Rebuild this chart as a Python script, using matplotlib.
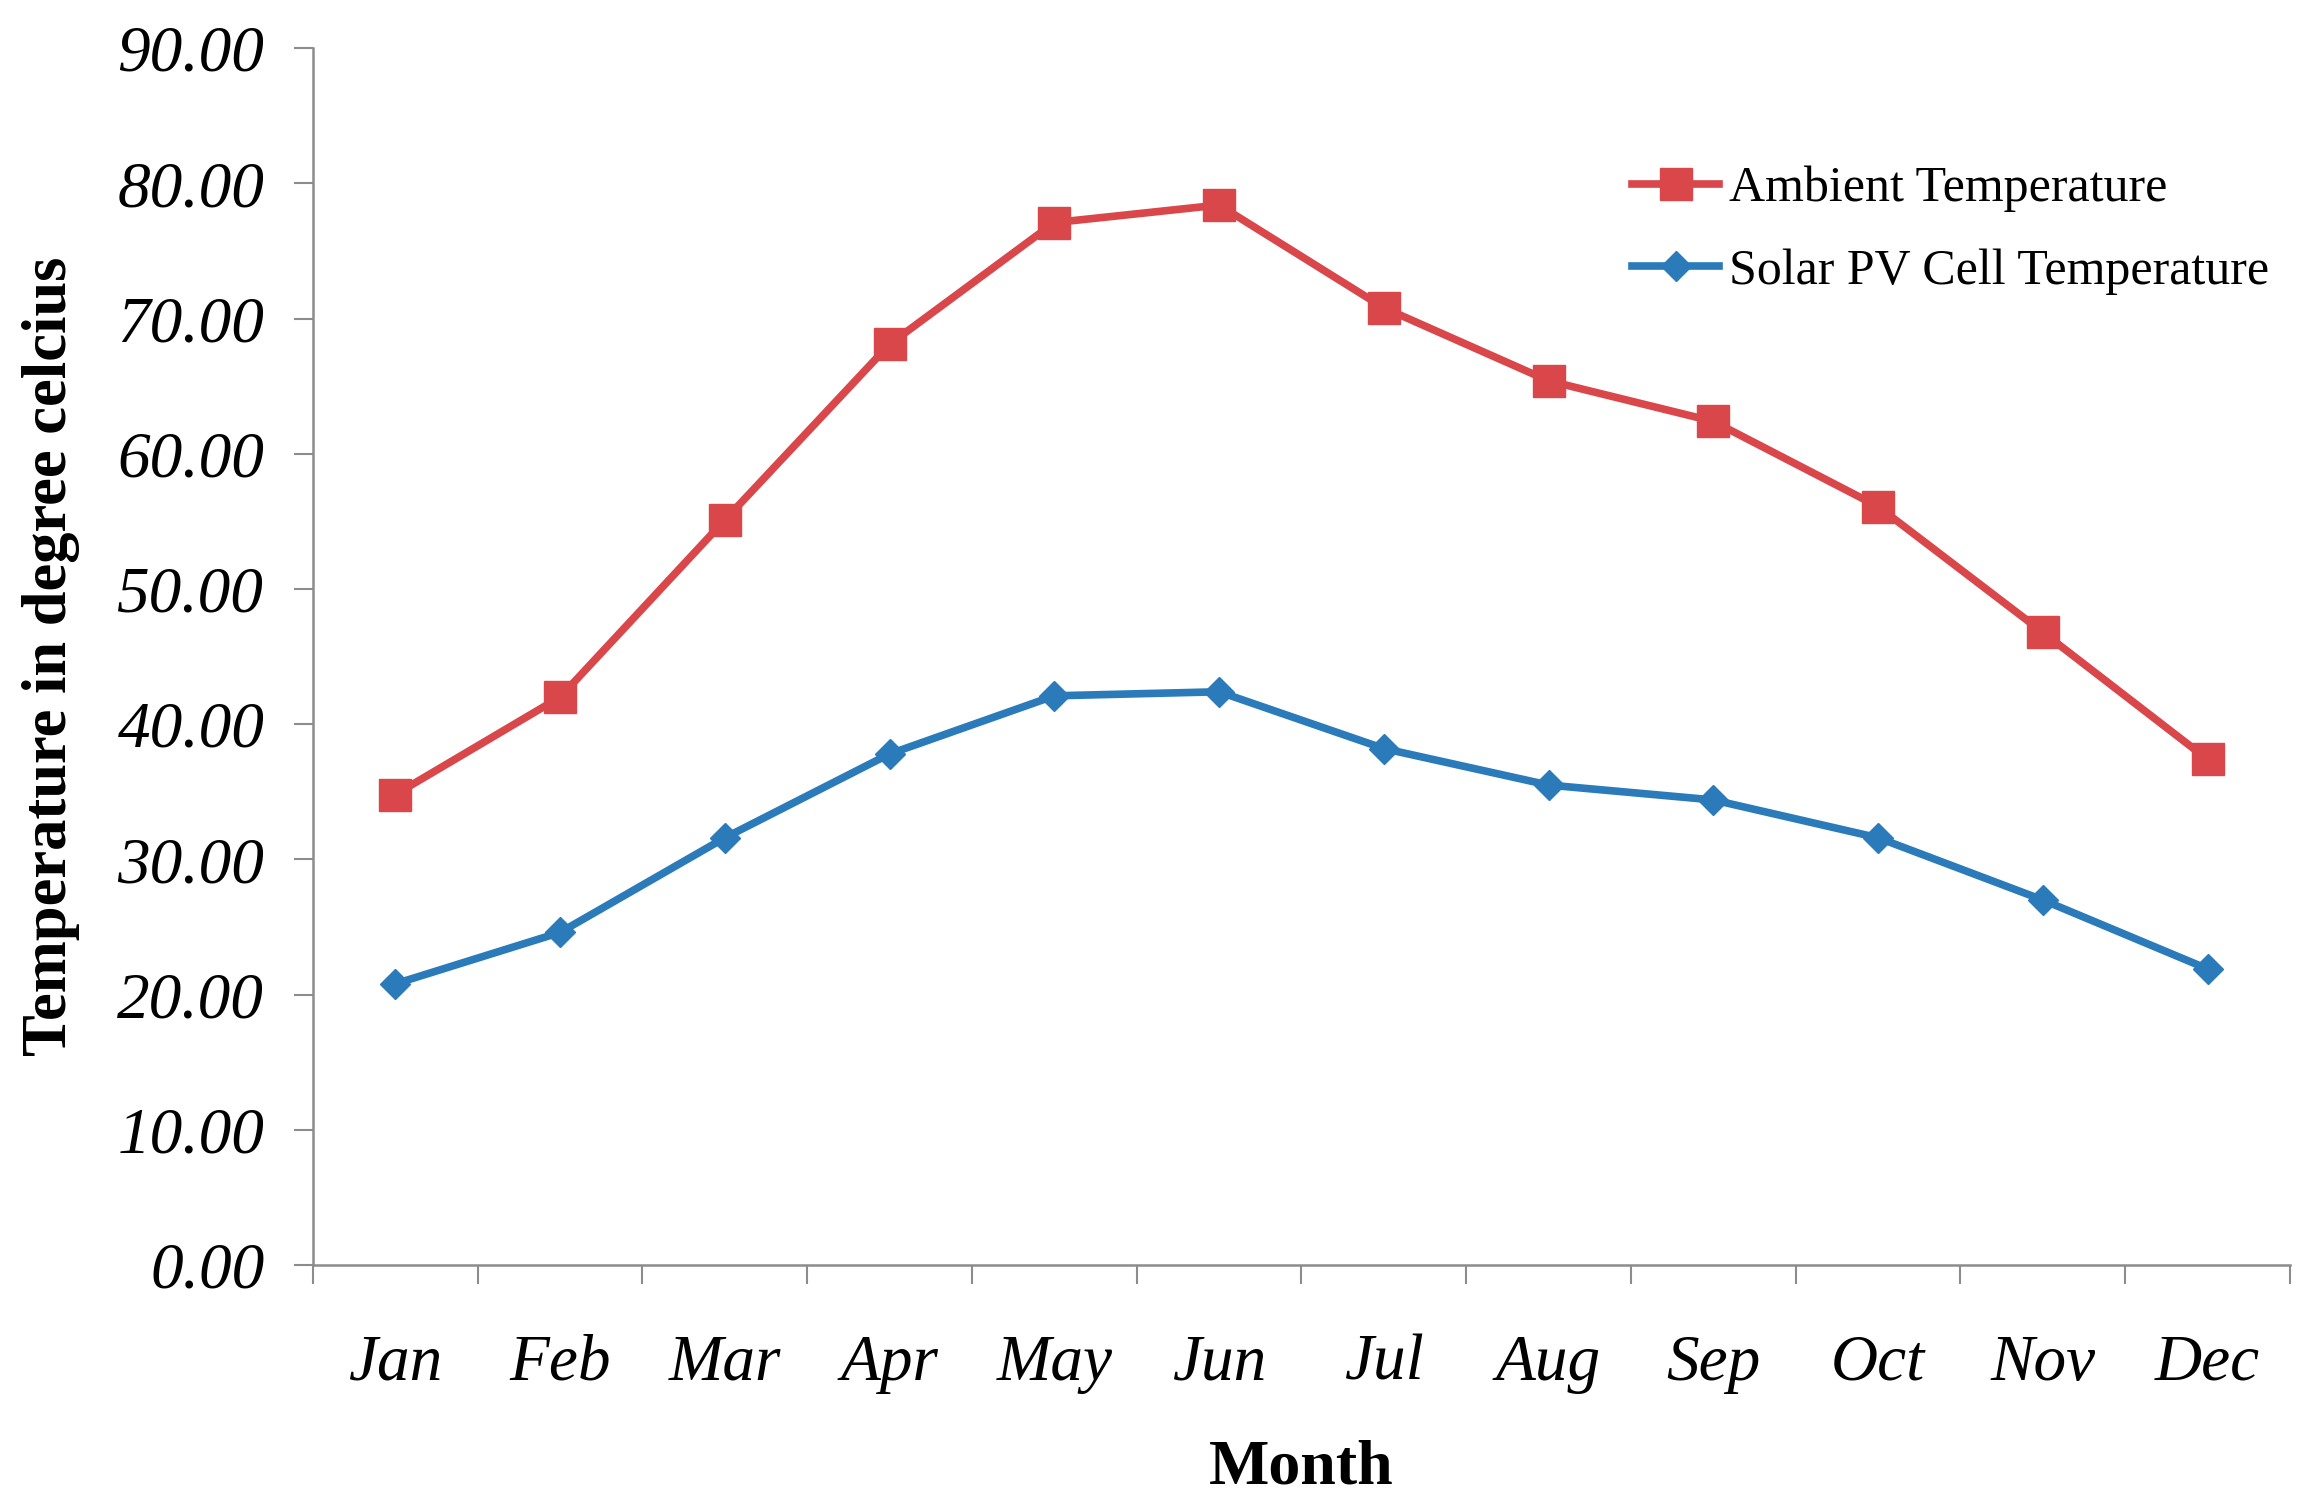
import matplotlib.pyplot as plt
from matplotlib.ticker import FixedLocator, FormatStrFormatter

months = ["Jan", "Feb", "Mar", "Apr", "May", "Jun",
          "Jul", "Aug", "Sep", "Oct", "Nov", "Dec"]
ambient = [34.8, 42.0, 55.1, 68.1, 77.1, 78.4, 70.8, 65.4, 62.4, 56.1, 46.8, 37.4]
solar_pv = [20.8, 24.6, 31.6, 37.8, 42.1, 42.4, 38.2, 35.5, 34.4, 31.6, 27.0, 21.9]
yticks = [0, 10, 20, 30, 40, 50, 60, 70, 80, 90]

plt.rcParams["font.family"] = ["Liberation Serif", "DejaVu Serif"]

fig = plt.figure(figsize=(23.11, 15.06), dpi=100)
ax = fig.add_axes([0.1354, 0.160, 0.8555, 0.808])

x = list(range(len(months)))
ax.plot(x, ambient, color="#D9474A", linewidth=5.5, marker="s",
        markersize=23, label="Ambient Temperature")
ax.plot(x, solar_pv, color="#2B7BBA", linewidth=5.5, marker="D",
        markersize=15, label="Solar PV Cell Temperature")

ax.set_xlim(-0.5, 11.5)
ax.set_ylim(0, 90)

# y axis
ax.set_yticks(yticks)
ax.yaxis.set_major_formatter(FormatStrFormatter("%.2f"))
ax.tick_params(axis="y", length=14, width=1.5, color="#8c8c8c",
               pad=21, labelsize=47)
for t in ax.get_yticklabels():
    t.set_fontstyle("italic")

# x axis: labels at centres, ticks at boundaries
ax.set_xticks(x)
ax.set_xticklabels(months, fontsize=47, fontstyle="italic")
ax.tick_params(axis="x", which="major", length=0, pad=50)
ax.xaxis.set_minor_locator(FixedLocator([i - 0.5 for i in range(13)]))
ax.tick_params(axis="x", which="minor", length=14, width=1.5, color="#8c8c8c")

for side in ["top", "right"]:
    ax.spines[side].set_visible(False)
for side in ["left", "bottom"]:
    ax.spines[side].set_color("#8c8c8c")
    ax.spines[side].set_linewidth(1.8)

ax.set_ylabel("Temperature in degree celcius", fontsize=45, fontweight="bold")
ax.yaxis.set_label_coords(-0.118, 0.5)
ax.set_xlabel("Month", fontsize=46, fontweight="bold")
ax.xaxis.set_label_coords(0.5, -0.143)

ax.legend(loc="upper left", bbox_to_anchor=(0.657, 0.92), frameon=False,
          fontsize=36, handlelength=1.75, handletextpad=0.2,
          labelspacing=0.72, borderaxespad=0)

plt.savefig("out.png", dpi=100)
